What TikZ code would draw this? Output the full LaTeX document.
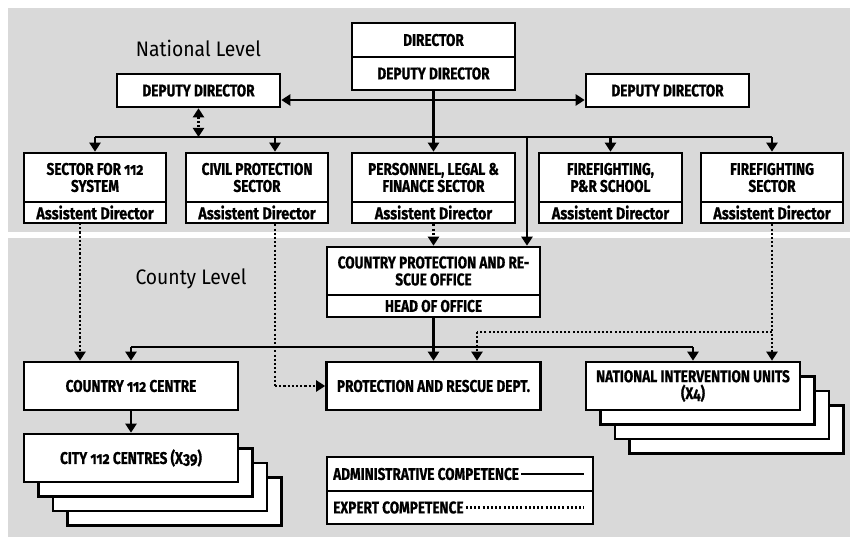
\documentclass[tikz,border=0pt]{standalone}
\usepackage{fontspec}
\setmainfont{Fira Sans}[FakeStretch=0.8,Numbers=OldStyle,BoldFeatures={FakeBold=0.7}]
\newfontfamily\subfont{Fira Sans}[FakeStretch=0.85,Numbers=OldStyle,BoldFeatures={FakeBold=0.7}]
\newfontfamily\lvlfont{Fira Sans}[FakeStretch=0.92]
\usetikzlibrary{arrows.meta,calc}
\definecolor{panel}{HTML}{D9D9D9}
\newcommand{\bxfont}{\fontsize{17}{17}\selectfont\bfseries}
\newcommand{\sbfont}{\subfont\fontsize{17}{17}\selectfont\bfseries}
\begin{document}
\begin{tikzpicture}[x=1pt,y=-1pt,
  box/.style={draw,line width=2.6pt,fill=white,inner sep=0pt,align=center,font=\bxfont},
  sub/.style={box,font=\sbfont},
  conn/.style={line width=2.2pt,-{Triangle[length=9pt,width=11pt]}},
  plain/.style={line width=2.2pt},
  dots/.style={line width=2.1pt,dash pattern=on 2.1pt off 2.1pt},
  dconn/.style={dots,-{Triangle[length=9pt,width=11pt]}},
  lvl/.style={font=\lvlfont\fontsize{21}{24}\selectfont,inner sep=0pt}]
\useasboundingbox (0,0) rectangle (850,537);
\fill[panel] (8,8) rectangle (850,232);
\fill[panel] (8,238) rectangle (850,537);

\node[lvl] (natl) at (198.5,48) {National Level};
\node[lvl] (cnty) at (191,279) {County Level};

% national level
\node[box,minimum width=163pt,minimum height=34pt] (dir) at (433.5,40) {DIRECTOR};
\node[box,minimum width=163pt,minimum height=33pt] (dird) at (433.5,73.5) {DEPUTY DIRECTOR};
\node[box,minimum width=163pt,minimum height=33pt] (depL) at (198.5,90.5) {DEPUTY DIRECTOR};
\node[box,minimum width=163pt,minimum height=33pt] (depR) at (667.5,90.5) {DEPUTY DIRECTOR};

\node[box,minimum width=142pt,minimum height=49pt] (s1) at (95,177.5) {SECTOR FOR 112\\SYSTEM};
\node[sub,minimum width=142pt,minimum height=21pt] (s1a) at (95,212.5) {Assistent Director};
\node[box,minimum width=142pt,minimum height=49pt] (s2) at (257,177.5) {CIVIL PROTECTION\\SECTOR};
\node[sub,minimum width=142pt,minimum height=21pt] (s2a) at (257,212.5) {Assistent Director};
\node[box,minimum width=163pt,minimum height=49pt] (s3) at (433.5,177.5) {PERSONNEL, LEGAL \&\\FINANCE SECTOR};
\node[sub,minimum width=163pt,minimum height=21pt] (s3a) at (433.5,212.5) {Assistent Director};
\node[box,minimum width=143pt,minimum height=49pt] (s4) at (610.5,177.5) {FIREFIGHTING,\\P\&R SCHOOL};
\node[sub,minimum width=143pt,minimum height=21pt] (s4a) at (610.5,212.5) {Assistent Director};
\node[box,minimum width=142pt,minimum height=49pt] (s5) at (772,177.5) {FIREFIGHTING\\SECTOR};
\node[sub,minimum width=142pt,minimum height=21pt] (s5a) at (772,212.5) {Assistent Director};

% county level
\node[box,minimum width=213pt,minimum height=48pt] (cpo) at (433.5,271) {COUNTRY PROTECTION AND RE-\\SCUE OFFICE};
\node[box,minimum width=213pt,minimum height=22pt] (cpoh) at (433.5,306) {HEAD OF OFFICE};

\node[box,minimum width=214pt,minimum height=48pt] (c112) at (131,386) {COUNTRY 112 CENTRE};
\node[box,minimum width=214pt,minimum height=48pt] (prd) at (433.5,386) {PROTECTION AND RESCUE DEPT.};

\node[box,minimum width=214pt,minimum height=48pt] (city3) at (174.2,501.2) {};
\node[box,minimum width=214pt,minimum height=48pt] (city2) at (159.8,486.8) {};
\node[box,minimum width=214pt,minimum height=48pt] (city1) at (145.4,472.4) {};
\node[box,minimum width=214pt,minimum height=48pt] (city) at (131,458) {CITY 112 CENTRES (X39)};

\node[box,minimum width=214pt,minimum height=48pt] (niu3) at (736.2,429.2) {};
\node[box,minimum width=214pt,minimum height=48pt] (niu2) at (721.8,414.8) {};
\node[box,minimum width=214pt,minimum height=48pt] (niu1) at (707.4,400.4) {};
\node[box,minimum width=214pt,minimum height=48pt] (niu) at (693,386) {NATIONAL INTERVENTION UNITS\\(X4)};

% legend
\node[box,minimum width=266pt,minimum height=34pt] (leg1) at (460,474) {};
\node[box,minimum width=266pt,minimum height=33pt] (leg2) at (460,507.5) {};
\node[font=\bxfont,anchor=west,inner sep=0pt] (lt1) at (333,474) {ADMINISTRATIVE COMPETENCE};
\node[font=\bxfont,anchor=west,inner sep=0pt] (lt2) at (333,507.5) {EXPERT COMPETENCE};
\coordinate (le1) at (584,474);
\coordinate (le2) at (584,507.5);
\draw[plain] ([xshift=2pt]lt1.east) -- (le1);
\draw[dots] ([xshift=2pt]lt2.east) -- (le2);

% helper coordinates
\coordinate (hl) at (433.5,100);
\coordinate (bus) at (433.5,137);
\coordinate (bus2) at (433.5,347);
\coordinate (s2x) at (275,137);
\coordinate (cpx) at (527,137);
\coordinate (s1x) at (80,223);
\coordinate (bend2) at (275,386);
\coordinate (br) at (772,332);
\coordinate (bl) at (477,332);

% national connectors
\draw[line width=2.2pt,{Triangle[length=9pt,width=11pt]}-{Triangle[length=9pt,width=11pt]}] (depL.east |- hl) -- (depR.west |- hl);
\draw[conn] (dird.south) -- (s3.north);
\draw[plain] (s1.north |- bus) -- (s5.north |- bus);
\draw[conn] (s1.north |- bus) -- (s1.north);
\draw[conn] (s2x) -- (s2x |- s2.north);
\draw[conn] (s4.north |- bus) -- (s4.north);
\draw[conn] (s5.north |- bus) -- (s5.north);
\draw[dots,{Triangle[length=9pt,width=11pt]}-{Triangle[length=9pt,width=11pt]}] (depL.south) -- (depL.south |- bus);
\draw[conn] (cpx) -- (cpx |- cpo.north);

% to county
\draw[dconn] (s3a.south) -- (cpo.north);
\draw[conn] (cpoh.south) -- (prd.north);
\draw[plain] (c112.north |- bus2) -- (niu.north |- bus2);
\draw[conn] (c112.north |- bus2) -- (c112.north);
\draw[conn] (niu.north |- bus2) -- (niu.north);
\draw[dconn] (s1x) -- (s1x |- c112.north);
\draw[dots] (s2x |- s2a.south) -- (bend2);
\draw[dconn] (bend2) -- (prd.west);
\draw[dconn] (s5a.south) -- (s5a.south |- niu.north);
\draw[dots] (br) -- (bl);
\draw[dconn] (bl) -- (bl |- prd.north);
\draw[conn] (c112.south) -- (city.north);
\end{tikzpicture}
\end{document}
